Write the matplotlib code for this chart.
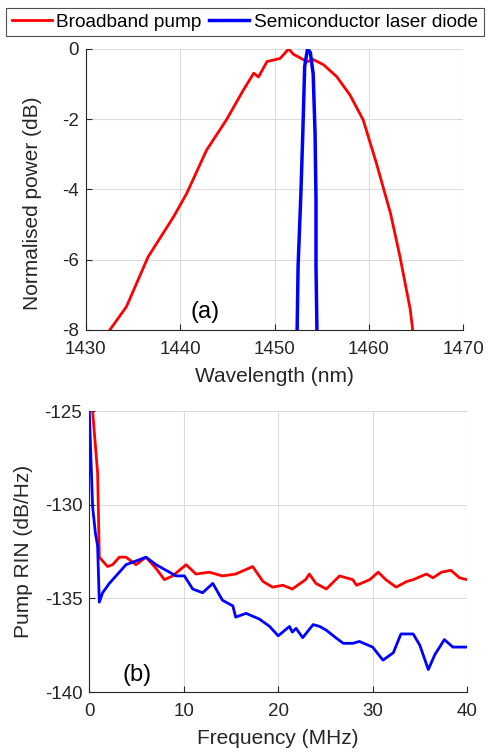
import matplotlib.pyplot as plt
import numpy as np

plt.rcParams['font.family'] = ['Liberation Sans', 'DejaVu Sans']
plt.rcParams['axes.unicode_minus'] = False

# (a) optical spectra
wl_pump = [1432.55, 1434.3, 1436.6, 1439.3, 1440.7, 1442.8, 1444.9, 1446.7, 1447.8, 1448.3,
           1449.2, 1450.6, 1451.5, 1452.0, 1453.1, 1453.4, 1454.1, 1455.2, 1456.6, 1458.0,
           1459.4, 1460.8, 1462.3, 1463.3, 1464.4, 1464.65]
p_pump = [-8.0, -7.34, -5.92, -4.78, -4.11, -2.88, -2.02, -1.17, -0.69, -0.8,
          -0.36, -0.27, 0.0, -0.15, -0.31, -0.37, -0.3, -0.45, -0.79, -1.31,
          -2.02, -3.25, -4.68, -5.91, -7.43, -8.0]
wl_ld = [1452.4, 1452.5, 1452.8, 1453.0, 1453.2, 1453.5, 1453.8, 1454.1, 1454.3, 1454.4, 1454.4, 1454.5]
p_ld = [-8.0, -6.2, -4.1, -2.4, -0.5, 0.0, -0.1, -0.71, -2.4, -4.3, -6.2, -8.0]

# (b) RIN
f_pump = [0.35, 0.88, 1.06, 1.24, 1.94, 2.47, 3.18, 3.89, 4.95, 6.0, 7.07, 7.95, 8.83, 9.54,
          10.25, 11.3, 12.7, 14.1, 15.5, 17.3, 18.4, 19.4, 20.5, 21.5, 22.9, 23.3, 24.0, 25.1,
          26.5, 27.9, 28.3, 29.7, 30.6, 31.4, 32.5, 33.6, 34.3, 35.7, 36.4, 37.3, 38.3, 39.2, 40.0]
rin_pump = [-125.0, -128.3, -132.8, -132.9, -133.3, -133.2, -132.8, -132.8, -133.2, -132.8,
            -133.4, -134.0, -133.8, -133.5, -133.2, -133.7, -133.6, -133.8, -133.7, -133.3,
            -134.1, -134.4, -134.3, -134.5, -134.0, -133.7, -134.2, -134.5, -133.8, -134.0,
            -134.3, -134.0, -133.6, -134.0, -134.4, -134.1, -134.0, -133.7, -133.9, -133.6,
            -133.5, -133.9, -134.0]
f_ld = [0.0, 0.35, 0.64, 0.88, 1.06, 1.41, 2.12, 2.83, 3.89, 4.95, 6.0, 7.07, 8.13, 9.19,
        10.07, 10.95, 12.0, 13.08, 14.1, 15.2, 15.5, 16.6, 18.0, 19.1, 20.0, 21.2, 21.5, 21.9,
        22.6, 23.7, 24.4, 25.1, 26.1, 26.9, 27.9, 28.6, 30.0, 31.1, 32.2, 33.0, 34.3, 35.0,
        35.9, 36.6, 37.6, 38.5, 40.0]
rin_ld = [-125.0, -130.1, -131.5, -132.2, -135.2, -134.7, -134.2, -133.8, -133.2, -133.0,
          -132.8, -133.2, -133.5, -133.8, -133.8, -134.5, -134.7, -134.2, -135.1, -135.4,
          -136.0, -135.8, -136.1, -136.5, -137.0, -136.5, -136.8, -136.6, -137.1, -136.4,
          -136.5, -136.7, -137.1, -137.4, -137.4, -137.3, -137.6, -138.3, -137.9, -136.9,
          -136.9, -137.5, -138.8, -138.0, -137.2, -137.6, -137.6]

fig = plt.figure(figsize=(4.88, 7.53), dpi=100)
ax1 = fig.add_axes([0.176, 0.562, 0.773, 0.373])
ax2 = fig.add_axes([0.183, 0.081, 0.774, 0.373])

dark = '#262626'
for ax in (ax1, ax2):
    ax.spines['top'].set_visible(False)
    ax.spines['right'].set_visible(False)
    ax.spines['left'].set_color(dark)
    ax.spines['bottom'].set_color(dark)
    ax.tick_params(direction='in', labelsize=13.5, colors=dark, length=4)
    ax.tick_params(axis='x', pad=8)
    ax.tick_params(axis='y', pad=5)
    ax.grid(True, color='#dcdcdc', linewidth=0.8)
    ax.set_axisbelow(True)

l1, = ax1.plot(wl_pump, p_pump, color='#ff0000', lw=2)
l2, = ax1.plot(wl_ld, p_ld, color='#0000ff', lw=2.5)
ax1.set_xlim(1430, 1470)
ax1.set_ylim(-8, 0)
ax1.set_xticks([1430, 1440, 1450, 1460, 1470])
ax1.set_yticks([-8, -6, -4, -2, 0])
ax1.set_xlabel('Wavelength (nm)', fontsize=15, color=dark)
ax1.set_ylabel('Normalised power (dB)', fontsize=15, color=dark)
ax1.xaxis.set_label_coords(0.5, -0.131)
ax1.yaxis.set_label_coords(-0.117, 0.45)
ax1.text(1442.6, -7.5, '(a)', fontsize=17, ha='center', va='center')

ax2.plot(f_pump, rin_pump, color='#ff0000', lw=2)
ax2.plot(f_ld, rin_ld, color='#0000ff', lw=2)
ax2.set_xlim(0, 40)
ax2.set_ylim(-140, -125)
ax2.set_xticks([0, 10, 20, 30, 40])
ax2.set_yticks([-140, -135, -130, -125])
ax2.set_xlabel('Frequency (MHz)', fontsize=15, color=dark)
ax2.set_ylabel('Pump RIN (dB/Hz)', fontsize=15, color=dark)
ax2.xaxis.set_label_coords(0.5, -0.131)
ax2.yaxis.set_label_coords(-0.149, 0.5)
ax2.text(5.1, -139.07, '(b)', fontsize=17, ha='center', va='center')

leg = fig.legend([l1, l2], ['Broadband pump', 'Semiconductor laser diode'],
                 loc='upper center', bbox_to_anchor=(0.502, 0.990), ncol=2, fontsize=13.7,
                 fancybox=False, edgecolor=dark, handlelength=2.1, handletextpad=0.25,
                 columnspacing=0.4, borderpad=0.3, borderaxespad=0)
leg.get_frame().set_linewidth(0.8)

fig.savefig('out.png', dpi=100)
